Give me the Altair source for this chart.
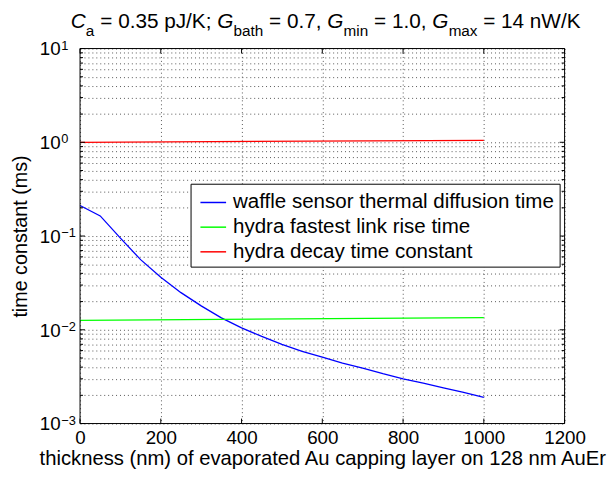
import altair as alt
import pandas as pd

# ---------------- data ----------------
thickness = [0, 50, 100, 150, 200, 250, 300, 350, 400, 450, 500,
             550, 600, 650, 700, 750, 800, 850, 900, 950, 1000]
waffle_diffusion = [0.212, 0.164, 0.095, 0.056, 0.0364, 0.0249, 0.0180, 0.0134,
                    0.0105, 0.0085, 0.0070, 0.0059, 0.0051, 0.0044, 0.0039,
                    0.0034, 0.0030, 0.0027, 0.0024, 0.00215, 0.0019]
rise_x = [0, 1000]
rise_time = [0.0126, 0.0135]
decay_x = [0, 1000]
decay_time = [1.0, 1.05]

series_names = ["waffle sensor thermal diffusion time",
                "hydra fastest link rise time",
                "hydra decay time constant"]
series_colors = ["#0000ff", "#00ff00", "#ff0000"]

x_ticks = [0, 200, 400, 600, 800, 1000, 1200]
y_exponents = [-3, -2, -1, 0, 1]
y_exp_labels = ["\u22123", "\u22122", "\u22121", "0", "1"]
y_major = [10.0 ** k for k in y_exponents]
y_minor = [m * 10.0 ** k for k in range(-3, 1) for m in range(2, 10)]

x_title = "thickness (nm) of evaporated Au capping layer on 128 nm AuEr"
y_title = "time constant (ms)"

rows = []
for x, y in zip(thickness, waffle_diffusion):
    rows.append({"x": x, "y": y, "series": series_names[0]})
for x, y in zip(rise_x, rise_time):
    rows.append({"x": x, "y": y, "series": series_names[1]})
for x, y in zip(decay_x, decay_time):
    rows.append({"x": x, "y": y, "series": series_names[2]})
df = pd.DataFrame(rows)

# ---------------- layout ----------------
W, H = 491, 380
FONT = "Liberation Sans"

xs = alt.Scale(domain=[0, 1200], nice=False, zero=False)
ys = alt.Scale(type="log", domain=[1e-3, 10], nice=False)

x_axis = alt.Axis(
    values=x_ticks, format="d", grid=True, gridDash=[1, 3], gridColor="#555555",
    gridWidth=1, ticks=False, tickSize=0, domain=False,
    labelFont=FONT, labelFontSize=19, labelColor="black", labelPadding=5,
    labelFlush=False,
    title=x_title, titleFont=FONT, titleFontSize=20.5, titleFontWeight="normal",
    titleColor="black", titleBaseline="alphabetic", titleY=41.5,
    titleX=W / 2, titleAlign="center")
y_axis = alt.Axis(
    values=y_major + y_minor, grid=True, gridDash=[1, 3], gridColor="#555555",
    gridWidth=1, ticks=False, tickSize=0, domain=False, labels=False,
    title=y_title, titleFont=FONT, titleFontSize=20, titleFontWeight="normal",
    titleColor="black", titleAngle=270, titleBaseline="alphabetic",
    titleX=-54.6, titleY=190, titleAlign="center")

lines = alt.Chart(df).mark_line(strokeWidth=1.3).encode(
    x=alt.X("x:Q", scale=xs, axis=x_axis),
    y=alt.Y("y:Q", scale=ys, axis=y_axis),
    color=alt.Color("series:N",
                    scale=alt.Scale(domain=series_names, range=series_colors),
                    sort=series_names,
                    legend=alt.Legend(
                        orient="none", legendX=112, legendY=137, title=None,
                        symbolType="stroke", symbolSize=676, symbolStrokeWidth=1.5,
                        labelFont=FONT, labelFontSize=20.8, labelColor="black",
                        labelOffset=6, symbolOffset=4, rowPadding=1, padding=5,
                        strokeColor="black", fillColor="white",
                        labelLimit=500)),
    detail="series:N",
)

xt_df = pd.DataFrame({"t": x_ticks})
ymaj_df = pd.DataFrame({"v": y_major})
ymin_df = pd.DataFrame({"v": y_minor})

def xtick(y0, y1):
    return alt.Chart(xt_df).mark_rule(color="black", strokeWidth=1).encode(
        x=alt.X("t:Q", scale=xs, axis=x_axis), y=alt.value(y0), y2=alt.value(y1))

def ytick(d, x0, x1):
    return alt.Chart(d).mark_rule(color="black", strokeWidth=1).encode(
        y=alt.Y("v:Q", scale=ys, axis=y_axis), x=alt.value(x0), x2=alt.value(x1))

ticks = [xtick(H, H - 5), xtick(0, 5),
         ytick(ymaj_df, 0, 5), ytick(ymaj_df, W - 5, W),
         ytick(ymin_df, 0, 3), ytick(ymin_df, W - 3, W)]

ylab_df = pd.DataFrame({"v": y_major, "e": y_exp_labels})
ten = alt.Chart(ylab_df).mark_text(
    text="10", font=FONT, fontSize=19, align="right", baseline="alphabetic",
    dy=7, color="black").encode(
    y=alt.Y("v:Q", scale=ys, axis=y_axis), x=alt.value(-19.6))
expo = alt.Chart(ylab_df).mark_text(
    font=FONT, fontSize=13, align="left", baseline="alphabetic",
    dy=1, color="black").encode(
    y=alt.Y("v:Q", scale=ys, axis=y_axis), x=alt.value(-19), text="e:N")

# frame of the plot area
frame = alt.Chart(pd.DataFrame({"k": [0]})).mark_rect(
    fill=None, stroke="black", strokeWidth=1).encode(
    x=alt.value(0), x2=alt.value(W), y=alt.value(0), y2=alt.value(H))

one = pd.DataFrame({"k": [0]})

def piece(s, x, y, size, italic=False):
    return alt.Chart(one).mark_text(
        text=s, font=FONT, fontSize=size, fontStyle="italic" if italic else "normal",
        align="left", baseline="alphabetic", color="black").encode(
        x=alt.value(x), y=alt.value(y))

MAIN, SUB = 21, 15.5
BY, SY = -21, -13
title_parts = [
    piece("C", -9.5, BY, MAIN, True),
    piece("a", 5.8, SY, SUB),
    piece("= 0.35 pJ/K;", 20.5, BY, MAIN),
    piece("G", 139.0, BY, MAIN, True),
    piece("bath", 155.5, SY, SUB),
    piece("= 0.7,", 191.5, BY, MAIN),
    piece("G", 250.5, BY, MAIN, True),
    piece("min", 267.0, SY, SUB),
    piece("= 1.0,", 298.0, BY, MAIN),
    piece("G", 357.0, BY, MAIN, True),
    piece("max", 373.5, SY, SUB),
    piece("= 14 nW/K", 408.5, BY, MAIN),
]

chart = alt.layer(lines, *ticks, ten, expo, frame, *title_parts).properties(
    width=W, height=H,
    autosize=alt.AutoSizeParams(type="none"),
    padding={"left": 73, "top": 38, "right": 44, "bottom": 44},
    background="white",
).configure_view(stroke=None)

chart.save("out.html", embed_options={"renderer": "svg", "actions": False})
